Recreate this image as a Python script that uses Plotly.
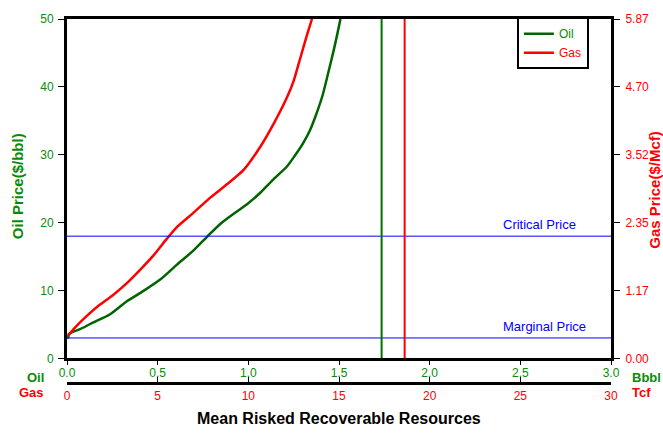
import plotly.graph_objects as go

# oil curve: mean risked recoverable resources (Bbbl) vs oil price ($/bbl)
oil_bbbl = [0.007, 0.01, 0.072, 0.146, 0.238, 0.33, 0.42, 0.514, 0.606, 0.698, 0.772,
            0.845, 0.919, 0.993, 1.066, 1.14, 1.214, 1.255, 1.30, 1.34, 1.375,
            1.41, 1.44, 1.47, 1.49, 1.508]
oil_price = [2.9, 3.6, 4.3, 5.3, 6.5, 8.4, 9.9, 11.6, 13.8, 15.9, 17.9,
             19.8, 21.3, 22.7, 24.4, 26.4, 28.3, 29.8, 31.6, 33.6, 36.0,
             38.8, 42.0, 45.3, 47.7, 50.0]

# gas curve: Tcf vs gas price ($/Mcf)
gas_tcf = [0.07, 0.35, 1.08, 1.82, 2.56, 3.30, 4.03, 4.77, 5.51, 6.06, 6.98,
           7.90, 8.82, 9.74, 10.66, 11.40, 12.14, 12.50, 12.87, 13.24, 13.51]
gas_price = [0.39, 0.50, 0.73, 0.93, 1.10, 1.30, 1.53, 1.78, 2.07, 2.27, 2.52,
             2.78, 3.01, 3.26, 3.66, 4.06, 4.52, 4.80, 5.20, 5.60, 5.87]

oil_mean = 1.735      # Bbbl
gas_mean = 18.62      # Tcf
critical_price = 18   # $/bbl
marginal_price = 3    # $/bbl

oil_ticks = [0, 0.5, 1.0, 1.5, 2.0, 2.5, 3.0]
gas_ticks = [0, 5, 10, 15, 20, 25, 30]
oil_price_ticks = [0, 10, 20, 30, 40, 50]
gas_price_ticks = [0, 1.174, 2.348, 3.522, 4.696, 5.87]
gas_price_text = ["0.00", "1.17", "2.35", "3.52", "4.70", "5.87"]

GREEN_LINE = "#006400"
GREEN_TXT = "#0a8a0a"
RED = "#ff0000"
BLUE = "#0000ff"
FONT = "Liberation Sans"

fig = go.Figure()
fig.add_trace(go.Scatter(x=oil_bbbl, y=oil_price, mode="lines",
                         line=dict(color=GREEN_LINE, width=2.5, shape="spline", smoothing=0.6),
                         name="<span style='color:#0a8a0a'>Oil</span>"))
fig.add_trace(go.Scatter(x=gas_tcf, y=gas_price, mode="lines", xaxis="x2", yaxis="y2",
                         line=dict(color=RED, width=2.5, shape="spline", smoothing=0.6),
                         name="<span style='color:#ff0000'>Gas</span>"))

# reference lines
fig.add_shape(type="line", xref="x", yref="y", x0=0, x1=3, y0=critical_price, y1=critical_price,
              line=dict(color=BLUE, width=1))
fig.add_shape(type="line", xref="x", yref="y", x0=0, x1=3, y0=marginal_price, y1=marginal_price,
              line=dict(color=BLUE, width=1))
fig.add_shape(type="line", xref="x", yref="y", x0=oil_mean, x1=oil_mean, y0=0, y1=50,
              line=dict(color="#007000", width=2))
fig.add_shape(type="line", xref="x2", yref="y", x0=gas_mean, x1=gas_mean, y0=0, y1=50,
              line=dict(color=RED, width=2))

ydom = [0.0678, 1]
axline = dict(showline=True, linecolor="black", linewidth=3, showgrid=False, zeroline=False)
inner = dict(showticklabels=False, showgrid=False, zeroline=False, showline=False,
             tickcolor="black", tickwidth=1)

fig.update_layout(
    width=663, height=433,
    margin=dict(l=67, r=52, t=14, b=50),
    paper_bgcolor="white", plot_bgcolor="white",
    font=dict(family=FONT, size=12),
    showlegend=True,
    legend=dict(x=0.827, y=1.005, xanchor="left", yanchor="top",
                bgcolor="white", bordercolor="black", borderwidth=2,
                font=dict(size=12), itemwidth=30, tracegroupgap=0),
    xaxis=dict(domain=[0, 1], range=[0, 3], anchor="y", mirror=True,
               tickvals=oil_ticks, tickformat=".1f", ticks="outside", ticklen=4,
               ticklabelstandoff=-3,
               tickcolor="black", tickwidth=1, tickfont=dict(color=GREEN_TXT, size=12),
               **axline),
    yaxis=dict(domain=ydom, range=[0, 50], anchor="x",
               tickvals=oil_price_ticks, ticks="outside", ticklen=6, ticklabelstandoff=2,
               tickcolor="black", tickwidth=1, tickfont=dict(color=GREEN_TXT, size=12),
               **axline),
    xaxis2=dict(overlaying="x", anchor="free", position=0, side="bottom", range=[0, 30],
                tickvals=gas_ticks, ticks="inside", ticklen=5, ticklabelstandoff=1,
                tickcolor="black", tickwidth=1, tickfont=dict(color=RED, size=12),
                **axline),
    yaxis2=dict(overlaying="y", side="right", anchor="x", range=[0, 5.87],
                tickvals=gas_price_ticks, ticktext=gas_price_text, ticks="outside", ticklen=6,
                ticklabelstandoff=3,
                tickcolor="black", tickwidth=1, tickfont=dict(color=RED, size=12),
                **axline),
    # other halves of the crossing tick marks
    xaxis3=dict(overlaying="x", anchor="y", range=[0, 3], tickvals=oil_ticks,
                ticks="inside", ticklen=7, **inner),
    xaxis4=dict(overlaying="x", anchor="free", position=0, range=[0, 30], tickvals=gas_ticks,
                ticks="outside", ticklen=4, **inner),
    yaxis3=dict(overlaying="y", anchor="x", range=[0, 50], tickvals=oil_price_ticks,
                ticks="inside", ticklen=8, **inner),
    yaxis4=dict(overlaying="y", side="right", anchor="x", range=[0, 5.87], tickvals=gas_price_ticks,
                ticks="inside", ticklen=8, **inner),
)

ann = [
    dict(text="Critical Price", x=2.392, y=critical_price, xref="x", yref="y",
         xanchor="left", yanchor="bottom", yshift=2, font=dict(color=BLUE, size=13)),
    dict(text="Marginal Price", x=2.392, y=marginal_price, xref="x", yref="y",
         xanchor="left", yanchor="bottom", yshift=2, font=dict(color=BLUE, size=13)),
    dict(text="<b>Oil</b>", x=-0.0386, y=0.0163, xanchor="right", font=dict(color=GREEN_TXT, size=13)),
    dict(text="<b>Gas</b>", x=-0.0386, y=-0.0271, xanchor="right", font=dict(color=RED, size=13)),
    dict(text="<b>Bbbl</b>", x=1.035, y=0.0163, xanchor="left", font=dict(color=GREEN_TXT, size=13)),
    dict(text="<b>Tcf</b>", x=1.035, y=-0.0271, xanchor="left", font=dict(color=RED, size=13)),
    dict(text="<b>Mean Risked Recoverable Resources</b>", x=0.5, y=-0.0976,
         xanchor="center", font=dict(color="black", size=16)),
    dict(text="<b>Oil Price($/bbl)</b>", x=-0.0910, y=0.542, textangle=-90, xanchor="center",
         font=dict(color=GREEN_TXT, size=15)),
    dict(text="<b>Gas Price($/Mcf)</b>", x=1.081, y=0.531, textangle=-90, xanchor="center",
         font=dict(color=RED, size=15)),
]
for a in ann:
    a.setdefault("xref", "paper")
    a.setdefault("yref", "paper")
    a.setdefault("yanchor", "middle")
    a["showarrow"] = False
    fig.add_annotation(**a)

fig.write_html("out.html", config={"displayModeBar": False},
               post_script="document.body.style.margin='0';")
